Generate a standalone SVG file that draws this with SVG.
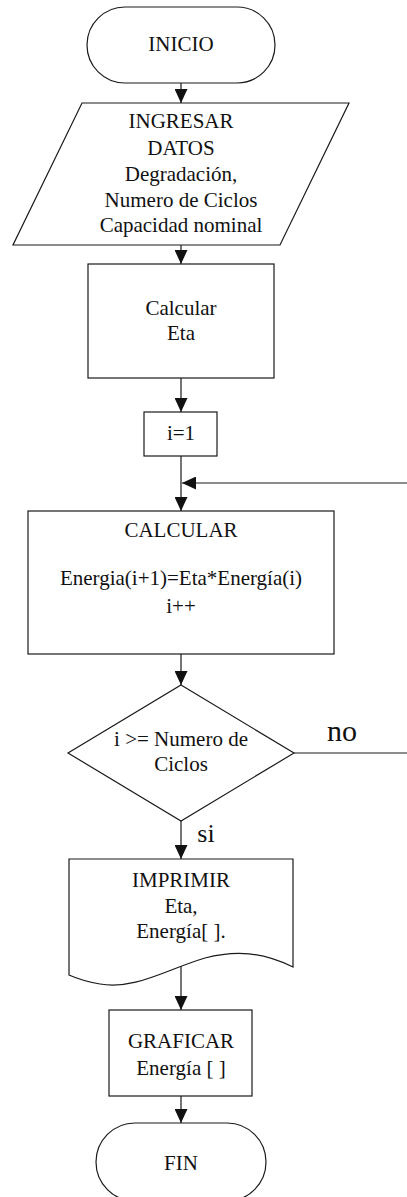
<svg xmlns="http://www.w3.org/2000/svg" width="407" height="1197" viewBox="0 0 407 1197">
  <style>
    .shape { fill: #ffffff; stroke: #1a1a1a; stroke-width: 1.2; }
    .conn { fill: none; stroke: #1a1a1a; stroke-width: 1.2; }
    text { font-family: "Liberation Serif", "DejaVu Serif", serif; font-size: 21px; fill: #111111; text-anchor: middle; }
    .big { font-size: 30px; }
  </style>
  <defs>
    <marker id="arrow" markerUnits="userSpaceOnUse" markerWidth="14" markerHeight="13" refX="14" refY="6.5" orient="auto">
      <path d="M0,0 L14,6.5 L0,13 Z" fill="#111111"/>
    </marker>
  </defs>
  <rect width="407" height="1197" fill="#ffffff"/>

  <g id="connectors">
    <path class="conn" d="M181,83 V103" marker-end="url(#arrow)"/>
    <path class="conn" d="M181,245 V264" marker-end="url(#arrow)"/>
    <path class="conn" d="M181,378 V412" marker-end="url(#arrow)"/>
    <path class="conn" d="M181,456 V511" marker-end="url(#arrow)"/>
    <path class="conn" d="M407,483 H182" marker-end="url(#arrow)"/>
    <path class="conn" d="M181,654 V685" marker-end="url(#arrow)"/>
    <path class="conn" d="M294,753 H407"/>
    <path class="conn" d="M181,821 V859" marker-end="url(#arrow)"/>
    <path class="conn" d="M181,966 V1010" marker-end="url(#arrow)"/>
    <path class="conn" d="M181,1096 V1123" marker-end="url(#arrow)"/>
    <text class="big" x="342" y="741" font-family="Liberation Serif, serif">no</text>
    <text x="206" y="842" style="font-size:26px">si</text>
  </g>

  <g id="inicio">
    <rect class="shape" x="87" y="7" width="188" height="76" rx="38" ry="38"/>
    <text x="181" y="51">INICIO</text>
  </g>

  <g id="ingresar-datos">
    <polygon class="shape" points="82,103 349,103 280,245 13,245"/>
    <text x="181" y="128">INGRESAR</text>
    <text x="181" y="155">DATOS</text>
    <text x="181" y="181">Degradación,</text>
    <text x="181" y="207">Numero de Ciclos</text>
    <text x="181" y="232">Capacidad nominal</text>
  </g>

  <g id="calcular-eta">
    <rect class="shape" x="88" y="264" width="186" height="114"/>
    <text x="181" y="315">Calcular</text>
    <text x="181" y="340">Eta</text>
  </g>

  <g id="init-i">
    <rect class="shape" x="144" y="412" width="73" height="44"/>
    <text x="181" y="440">i=1</text>
  </g>

  <g id="calcular-energia">
    <rect class="shape" x="28" y="511" width="306" height="143"/>
    <text x="181" y="537">CALCULAR</text>
    <text x="181" y="585">Energia(i+1)=Eta*Energía(i)</text>
    <text x="181" y="613">i++</text>
  </g>

  <g id="decision">
    <polygon class="shape" points="181,685 294,753 181,821 68,753"/>
    <text x="181" y="746">i &gt;= Numero de</text>
    <text x="181" y="771">Ciclos</text>
  </g>

  <g id="imprimir">
    <path class="shape" d="M69,859 H293 V967 C262,952 236,950 205,958 C165,970 135,990 100,984 C88,982 78,979 69,975 Z"/>
    <text x="181" y="887">IMPRIMIR</text>
    <text x="181" y="913">Eta,</text>
    <text x="181" y="938">Energía[ ].</text>
  </g>

  <g id="graficar">
    <rect class="shape" x="109" y="1010" width="143" height="86"/>
    <text x="181" y="1048">GRAFICAR</text>
    <text x="181" y="1075">Energía [ ]</text>
  </g>

  <g id="fin">
    <rect class="shape" x="96" y="1123" width="170" height="78" rx="39" ry="39"/>
    <text x="181" y="1170">FIN</text>
  </g>
</svg>
